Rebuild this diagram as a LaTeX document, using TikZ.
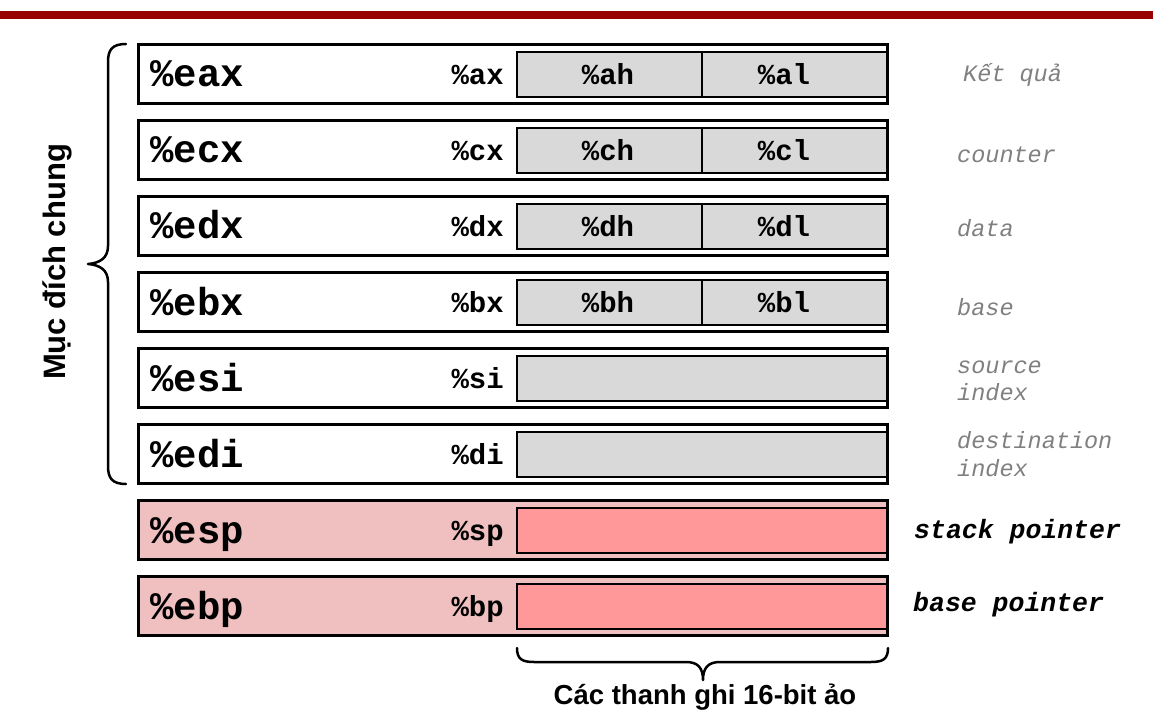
\documentclass[tikz,border=0pt]{standalone}
\usepackage{fontspec}
\setmainfont{Liberation Sans}
\newfontfamily\regfont{Liberation Mono}
\definecolor{barred}{HTML}{990000}
\definecolor{boxgray}{HTML}{D9D9D9}
\definecolor{pinkout}{HTML}{F0BFBF}
\definecolor{pinkin}{HTML}{FF9999}
\definecolor{labgray}{HTML}{808080}
\begin{document}
\begin{tikzpicture}[x=1pt,y=-1pt,
  outerbox/.style={draw=black, line width=3pt, minimum width=749pt, minimum height=59pt, inner sep=0pt, fill=white},
  innerbox/.style={draw=black, line width=1.2pt, fill=boxgray, minimum height=45pt, inner sep=0pt},
  bigtxt/.style={font=\regfont\bfseries\fontsize{39}{39}\selectfont, anchor=base west, inner sep=0pt},
  smalltxt/.style={font=\regfont\bfseries\fontsize{29}{29}\selectfont, anchor=base, inner sep=0pt},
  graytxt/.style={font=\regfont\itshape\fontsize{23.5}{23.5}\selectfont, text=labgray, anchor=base west, inner sep=0pt},
  blacktxt/.style={font=\regfont\bfseries\itshape\fontsize{26.5}{26.5}\selectfont, anchor=base west, inner sep=0pt},
  bracepath/.style={draw=black, line width=2.5pt, line cap=round, line join=round},
  sanstxt/.style={font=\bfseries\fontsize{27.5}{27.5}\selectfont, inner sep=0pt}
]
\useasboundingbox (0,0) rectangle (1153,711);
\fill[barred] (0,11) rectangle (1153,19);

% split registers
\foreach \n/\i/\s/\h/\l in {eax/0/ax/ah/al, ecx/1/cx/ch/cl, edx/2/dx/dh/dl, ebx/3/bx/bh/bl}{
  \node[outerbox] (\n) at (513,{74+76*\i}) {};
  \node[innerbox, minimum width=185pt] (\n-hi) at (609.5,{74.5+76*\i}) {};
  \node[innerbox, minimum width=185pt] (\n-lo) at (794.5,{74.5+76*\i}) {};
  \node[bigtxt] (\n-t) at (150,{87+76*\i}) {\%\n};
  \node[smalltxt, anchor=base east] (\n-s) at (504,{84.5+76*\i}) {\%\s};
  \node[smalltxt] (\n-ht) at (608,{84.5+76*\i}) {\%\h};
  \node[smalltxt] (\n-lt) at (784,{84.5+76*\i}) {\%\l};
}
% index registers
\foreach \n/\i/\s in {esi/4/si, edi/5/di}{
  \node[outerbox] (\n) at (513,{74+76*\i}) {};
  \node[innerbox, minimum width=370pt] (\n-in) at (702,{74.5+76*\i}) {};
  \node[bigtxt] (\n-t) at (150,{87+76*\i}) {\%\n};
  \node[smalltxt, anchor=base east] (\n-s) at (504,{84.5+76*\i}) {\%\s};
}
% pointer registers
\foreach \n/\i/\s in {esp/6/sp, ebp/7/bp}{
  \node[outerbox, fill=pinkout] (\n) at (513,{74+76*\i}) {};
  \node[innerbox, fill=pinkin, minimum width=370pt] (\n-in) at (702,{74.5+76*\i}) {};
  \node[bigtxt] (\n-t) at (150,{87+76*\i}) {\%\n};
  \node[smalltxt, anchor=base east] (\n-s) at (504,{84.5+76*\i}) {\%\s};
}

% right labels
\node[graytxt] (l1) at (963,82) {Kết quả};
\node[graytxt] (l2) at (957,163) {counter};
\node[graytxt] (l3) at (957,237) {data};
\node[graytxt] (l4) at (957,315) {base};
\node[graytxt] (l5) at (957,373) {source};
\node[graytxt] (l5b) at (957,400) {index};
\node[graytxt] (l6) at (957,448) {destination};
\node[graytxt] (l6b) at (957,476) {index};
\node[blacktxt] (l7) at (914,538) {stack pointer};
\node[blacktxt] (l8) at (913,611) {base pointer};

% left brace
\draw[bracepath] (126,44) .. controls (112,44) and (108,50) .. (108,62)
  -- (108,246) .. controls (108,258) and (100,263) .. (88,264)
  .. controls (100,265) and (108,270) .. (108,282)
  -- (108,466) .. controls (108,478) and (112,484) .. (126,484);
\node[sanstxt, font=\bfseries\fontsize{31}{31}\selectfont, rotate=90, anchor=base] (gp) at (65,262) {Mục đích chung};

% bottom brace
\draw[bracepath] (517,648) .. controls (517,659) and (522,662) .. (534,662)
  -- (686,662) .. controls (698,662) and (703,668) .. (703,680)
  .. controls (703,668) and (708,662) .. (720,662)
  -- (871,662) .. controls (883,662) and (888,659) .. (888,648);
\node[sanstxt, anchor=base] (vr) at (705,704.5) {Các thanh ghi 16-bit ảo};
\end{tikzpicture}
\end{document}
